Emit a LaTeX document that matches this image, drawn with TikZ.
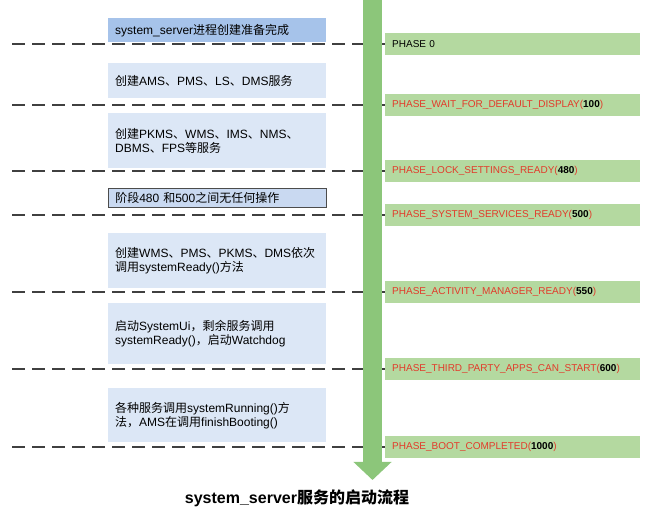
\documentclass[tikz,border=0pt]{standalone}
\usepackage{fontspec}
\setmainfont{Liberation Sans}
\newfontfamily\cjk{Noto Sans CJK SC}
\usetikzlibrary{positioning,arrows.meta}
\usepackage{xcolor}
\definecolor{stageblue}{HTML}{DCE7F6}
\definecolor{stagedark}{HTML}{A6C3EA}
\definecolor{stagemid}{HTML}{C9D9F1}
\definecolor{barfill}{HTML}{B4D9A0}
\definecolor{flowgreen}{HTML}{8CC67A}
\definecolor{phasered}{HTML}{E23B2B}
\newcommand{\zh}[1]{{\cjk #1}}
\newcommand{\phasename}[2]{\textcolor{phasered}{#1(}\textbf{#2}\textcolor{phasered}{)}}

\begin{document}
\begin{tikzpicture}[x=1pt, y=-1pt,
    stage/.style={fill=stageblue, anchor=north west, minimum width=218pt, text width=204pt, inner xsep=7pt, inner ysep=2pt, align=left, font=\fontsize{12}{14}\selectfont},
    phasebar/.style={fill=barfill, anchor=west, minimum width=255pt, minimum height=22pt, text width=241pt, inner xsep=7pt, inner ysep=1pt, align=left, font=\fontsize{10}{12}\selectfont},
    divider/.style={draw=black!75, line width=1.2pt, dash pattern=on 13pt off 7pt}]
    \useasboundingbox (0,0) rectangle (651,518);

    % stages on the left
    \node (s0) [stage, fill=stagedark, minimum height=24pt] at (108,18) {system\_server\zh{进程创建准备完成}};
    \node (s1) [stage, minimum height=35pt] at (108,63) {\zh{创建}AMS\zh{、}PMS\zh{、}LS\zh{、}DMS\zh{服务}};
    \node (s2) [stage, minimum height=55pt] at (108,113) {\zh{创建}PKMS\zh{、}WMS\zh{、}IMS\zh{、}NMS\zh{、}\\DBMS\zh{、}FPS\zh{等服务}};
    \node (s3) [stage, fill=stagemid, draw=black!70, line width=0.6pt, minimum height=19pt] at (108,188) {\zh{阶段}480 \zh{和}500\zh{之间无任何操作}};
    \node (s4) [stage, minimum height=55pt] at (108,233) {\zh{创建}WMS\zh{、}PMS\zh{、}PKMS\zh{、}DMS\zh{依次}\\\zh{调用}systemReady()\zh{方法}};
    \node (s5) [stage, minimum height=61pt] at (108,303) {\zh{启动}SystemUi\zh{，剩余服务调用}\\systemReady()\zh{，启动}Watchdog};
    \node (s6) [stage, minimum height=54pt] at (108,388) {\zh{各种服务调用}systemRunning()\zh{方}\\\zh{法，}AMS\zh{在调用}finishBooting()};

    % phases on the right
    \node (p0) [phasebar] at (385,44) {PHASE 0};
    \node (p1) [phasebar] at (385,105) {\phasename{PHASE\_WAIT\_FOR\_DEFAULT\_DISPLAY}{100}};
    \node (p2) [phasebar] at (385,171) {\phasename{PHASE\_LOCK\_SETTINGS\_READY}{480}};
    \node (p3) [phasebar] at (385,215) {\phasename{PHASE\_SYSTEM\_SERVICES\_READY}{500}};
    \node (p4) [phasebar] at (385,292) {\phasename{PHASE\_ACTIVITY\_MANAGER\_READY}{550}};
    \node (p5) [phasebar] at (385,369) {\phasename{PHASE\_THIRD\_PARTY\_APPS\_CAN\_START}{600}};
    \node (p6) [phasebar] at (385,447) {\phasename{PHASE\_BOOT\_COMPLETED}{1000}};

    % dashed dividers
    \coordinate (d0) at (12,44);
    \coordinate (d1) at (12,105);
    \coordinate (d2) at (12,171);
    \coordinate (d3) at (12,215);
    \coordinate (d4) at (12,292);
    \coordinate (d5) at (12,369);
    \coordinate (d6) at (12,447);
    \draw[divider] (d0) -- (p0.west);
    \draw[divider] (d1) -- (p1.west);
    \draw[divider] (d2) -- (p2.west);
    \draw[divider] (d3) -- (p3.west);
    \draw[divider] (d4) -- (p4.west);
    \draw[divider] (d5) -- (p5.west);
    \draw[divider] (d6) -- (p6.west);

    % boot flow arrow
    \coordinate (flowtop) at (372.5,0);
    \coordinate (flowend) at (372.5,480);
    \draw[flowgreen, line width=19pt, -{Triangle[length=18pt, width=37pt]}] (flowtop) -- (flowend);

    \node (title) at (297,498) {\fontsize{16}{18}\selectfont\bfseries system\_server\zh{服务的启动流程}};
\end{tikzpicture}
\end{document}
